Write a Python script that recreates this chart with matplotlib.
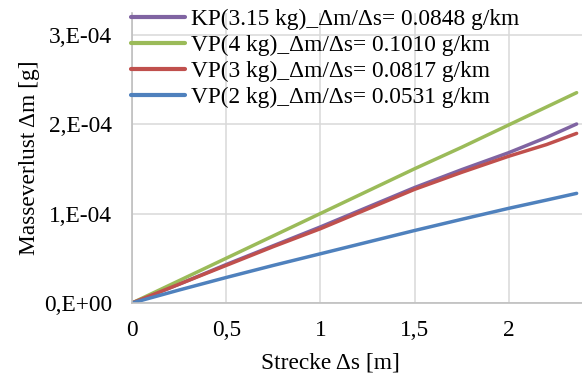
import matplotlib
matplotlib.use("Agg")
import matplotlib.pyplot as plt

# ---- data ----
strecke = [0, 0.25, 0.5, 0.75, 1.0, 1.25, 1.5, 1.75, 2.0, 2.2, 2.36]
kp_315 = [0, 0.21, 0.43, 0.64, 0.85, 1.07, 1.29, 1.49, 1.68, 1.85, 2.00]
vp_4 = [0, 0.25, 0.50, 0.75, 1.00, 1.25, 1.50, 1.74, 1.99, 2.19, 2.35]
vp_3 = [0, 0.21, 0.42, 0.63, 0.83, 1.05, 1.27, 1.46, 1.64, 1.77, 1.895]
vp_2 = [0, 0.145, 0.285, 0.42, 0.55, 0.68, 0.81, 0.935, 1.058, 1.15, 1.225]
scale = 1e-4

series_labels = [
    "KP(3.15 kg)_\u0394m/\u0394s= 0.0848 g/km",
    "VP(4 kg)_\u0394m/\u0394s= 0.1010 g/km",
    "VP(3 kg)_\u0394m/\u0394s= 0.0817 g/km",
    "VP(2 kg)_\u0394m/\u0394s= 0.0531 g/km",
]
series_colors = ["#8064A2", "#9BBB59", "#C0504D", "#4F81BD"]

x_ticks = [0, 0.5, 1, 1.5, 2]
x_tick_labels = ["0", "0,5", "1", "1,5", "2"]
y_ticks = [0, 1e-4, 2e-4, 3e-4]
y_tick_labels = ["0,E+00", "1,E-04", "2,E-04", "3,E-04"]

x_label = "Strecke \u0394s [m]"
y_label = "Masseverlust \u0394m [g]"

# ---- figure ----
plt.rcParams["font.family"] = ["Liberation Serif", "DejaVu Serif"]
FS = 16.8

W, H = 582, 376
fig = plt.figure(figsize=(W / 100, H / 100), dpi=100)
left_px, right_px, top_px, bottom_px = 132, 582, 13, 303
ax = fig.add_axes([left_px / W, 1 - bottom_px / H,
                   (right_px - left_px) / W, (bottom_px - top_px) / H])

for ys, lab, col in zip([kp_315, vp_4, vp_3, vp_2], series_labels, series_colors):
    ax.plot(strecke, [v * scale for v in ys], color=col, lw=2.5,
            label=lab, solid_capstyle="round", solid_joinstyle="round")

ax.set_xlim(0, (right_px - left_px) / 188.4)
ax.set_ylim(0, (bottom_px - top_px) / 89.5 * 1e-4)

ax.set_xticks(x_ticks)
ax.set_xticklabels(x_tick_labels)
ax.set_yticks(y_ticks)
ax.set_yticklabels(y_tick_labels)
ax.tick_params(axis="both", length=0, labelsize=FS, colors="black")
ax.tick_params(axis="x", pad=12)
ax.tick_params(axis="y", pad=14.5)

ax.grid(True, color="#d9d9d9", lw=1.1)
ax.set_axisbelow(True)
for s in ["top", "right"]:
    ax.spines[s].set_visible(False)
for s in ["left", "bottom"]:
    ax.spines[s].set_color("#bfbfbf")
    ax.spines[s].set_linewidth(1.2)

ax.set_xlabel(x_label, fontsize=FS)
ax.xaxis.set_label_coords((330 - left_px) / (right_px - left_px),
                          -(352 - bottom_px) / (bottom_px - top_px))
ax.set_ylabel(y_label, fontsize=FS)
ax.yaxis.set_label_coords(-(left_px - 40) / (right_px - left_px), 0.5)

leg = ax.legend(loc="upper left", bbox_to_anchor=(131 / W, 1 - 9 / H),
                bbox_transform=fig.transFigure, frameon=False, fontsize=FS,
                borderpad=0, borderaxespad=0, labelspacing=0.2,
                handlelength=2.3, handletextpad=0.26)
for h in leg.legend_handles:
    h.set_linewidth(3.0)

fig.savefig("out.png", dpi=100)
